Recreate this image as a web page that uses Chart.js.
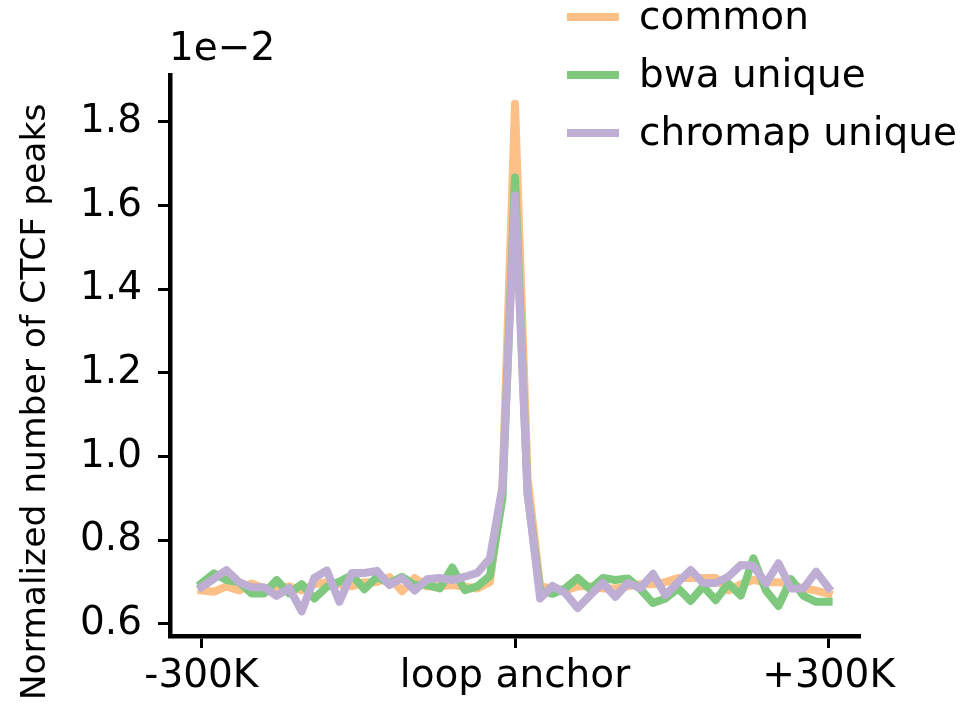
<!DOCTYPE html>
<html>
<head>
<meta charset="utf-8">
<script src="https://cdn.jsdelivr.net/npm/chart.js@4.4.0/dist/chart.umd.min.js"></script>
<style>
  html, body { margin: 0; padding: 0; background: #fff; }
  #wrap { width: 963px; height: 708px; }
</style>
</head>
<body>
<div id="wrap"><canvas id="peaks"></canvas></div>
<script>
// distance from loop anchor, in kb (12 kb bins)
const binsK = [-300, -288, -276, -264, -252, -240, -228, -216, -204, -192,
  -180, -168, -156, -144, -132, -120, -108, -96, -84, -72,
  -60, -48, -36, -24, -12, 0, 12, 24, 36, 48,
  60, 72, 84, 96, 108, 120, 132, 144, 156, 168,
  180, 192, 204, 216, 228, 240, 252, 264, 276, 288, 300];

// normalized peak counts, in units of 1e-2
const common = [0.68, 0.677, 0.69, 0.68, 0.697, 0.685, 0.685, 0.69, 0.68, 0.695,
  0.70, 0.695, 0.69, 0.70, 0.70, 0.712, 0.678, 0.71, 0.69, 0.69,
  0.693, 0.689, 0.685, 0.70, 0.93, 1.843, 0.95, 0.69, 0.685, 0.68,
  0.69, 0.69, 0.685, 0.685, 0.69, 0.695, 0.695, 0.70, 0.71, 0.71,
  0.71, 0.71, 0.68, 0.695, 0.705, 0.70, 0.70, 0.695, 0.685, 0.68, 0.672];

const bwaUnique = [0.697, 0.721, 0.705, 0.70, 0.673, 0.673, 0.705, 0.673, 0.695, 0.661,
  0.689, 0.701, 0.717, 0.683, 0.713, 0.697, 0.713, 0.693, 0.693, 0.685,
  0.735, 0.681, 0.69, 0.715, 0.90, 1.667, 0.91, 0.68, 0.672, 0.685,
  0.71, 0.683, 0.71, 0.705, 0.709, 0.683, 0.65, 0.661, 0.685, 0.655,
  0.69, 0.657, 0.697, 0.668, 0.757, 0.68, 0.643, 0.707, 0.667, 0.653, 0.653];

const chromapUnique = [0.688, 0.708, 0.729, 0.70, 0.688, 0.688, 0.667, 0.686, 0.630, 0.71,
  0.728, 0.653, 0.722, 0.722, 0.727, 0.693, 0.71, 0.68, 0.707, 0.71,
  0.705, 0.713, 0.722, 0.757, 0.928, 1.624, 0.915, 0.661, 0.691, 0.674,
  0.638, 0.669, 0.698, 0.665, 0.698, 0.686, 0.72, 0.669, 0.70, 0.729,
  0.698, 0.698, 0.713, 0.741, 0.739, 0.697, 0.745, 0.685, 0.685, 0.725, 0.686];

const xTickValues = [-300, 0, 300];
const xTickLabels = ["-300K", "loop anchor", "+300K"];
const yTickValues = [0.6, 0.8, 1.0, 1.2, 1.4, 1.6, 1.8];

const seriesNames = ["common", "bwa unique", "chromap unique"];
const seriesColors = ["#fdc086", "#7fc97f", "#beaed4"];

const FONT = "'DejaVu Sans', 'Liberation Sans', sans-serif";

function points(values) {
    return values.map((v, i) => ({ x: binsK[i], y: v }));
}

// legend, offset text and y label drawn by hand
const annotations = {
    id: "annotations",
    afterDraw(chart) {
        const ctx = chart.ctx;
        ctx.save();
        ctx.fillStyle = "#000";
        ctx.font = "39px " + FONT;
        ctx.textAlign = "left";
        ctx.textBaseline = "alphabetic";
        ctx.fillText("1e\u22122", 169, 60);

        const rows = [17, 75, 133];
        seriesNames.forEach((name, i) => {
            ctx.strokeStyle = seriesColors[i];
            ctx.lineWidth = 8;
            ctx.lineCap = "butt";
            ctx.beginPath();
            ctx.moveTo(567, rows[i]);
            ctx.lineTo(619, rows[i]);
            ctx.stroke();
            ctx.fillStyle = "#000";
            ctx.textBaseline = "middle";
            ctx.fillText(name, 639, rows[i] + 2);
        });

        ctx.translate(36, 402);
        ctx.rotate(-Math.PI / 2);
        ctx.textAlign = "center";
        ctx.textBaseline = "middle";
        ctx.font = "34.5px " + FONT;
        ctx.fillText("Normalized number of CTCF peaks", 0, 0);
        ctx.restore();
    }
};

new Chart(document.getElementById("peaks"), {
    type: "line",
    data: {
        datasets: seriesNames.map((name, i) => ({
            label: name,
            data: points([common, bwaUnique, chromapUnique][i]),
            borderColor: seriesColors[i],
            backgroundColor: seriesColors[i],
            borderWidth: 8,
            borderJoinStyle: "round",
            borderCapStyle: "square",
            pointRadius: 0,
            tension: 0,
            order: 3 - i
        }))
    },
    options: {
        responsive: true,
        maintainAspectRatio: false,
        animation: false,
        layout: { padding: { left: 0, right: 103, top: 75, bottom: 0 } },
        plugins: {
            legend: { display: false },
            tooltip: { enabled: false }
        },
        scales: {
            x: {
                type: "linear",
                min: -330,
                max: 330,
                afterFit: s => { s.height = 72; },
                afterBuildTicks: s => { s.ticks = xTickValues.map(v => ({ value: v })); },
                ticks: {
                    color: "#000",
                    font: { family: FONT, size: 39 },
                    padding: 5,
                    maxRotation: 0,
                    autoSkip: false,
                    callback: v => xTickLabels[xTickValues.indexOf(v)]
                },
                grid: { drawOnChartArea: false, drawTicks: true, tickLength: 12, tickWidth: 3, tickColor: "#000" },
                border: { display: true, color: "#000", width: 4.5 }
            },
            y: {
                min: 0.5713,
                max: 1.912,
                afterFit: s => { s.width = 170; },
                afterBuildTicks: s => { s.ticks = yTickValues.map(v => ({ value: v })); },
                ticks: {
                    color: "#000",
                    font: { family: FONT, size: 39 },
                    padding: 16,
                    callback: v => v.toFixed(1)
                },
                grid: { drawOnChartArea: false, drawTicks: true, tickLength: 12, tickWidth: 3, tickColor: "#000" },
                border: { display: true, color: "#000", width: 4.5 }
            }
        }
    },
    plugins: [annotations]
});
</script>
</body>
</html>
